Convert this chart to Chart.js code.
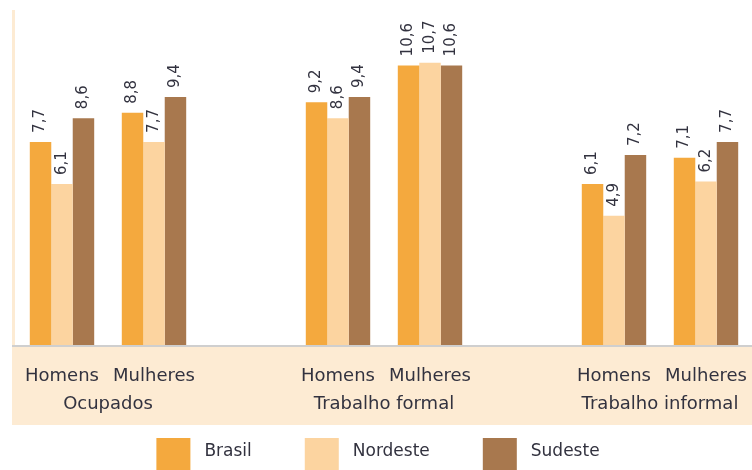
<!DOCTYPE html>
<html>
<head>
<meta charset="utf-8">
<script src="https://cdn.jsdelivr.net/npm/chart.js@4"></script>
<style>
  html, body { margin: 0; padding: 0; background: #fff; }
  #wrap { width: 752px; height: 470px; }
</style>
</head>
<body>
<div id="wrap"><canvas id="chart"></canvas></div>
<script>
'use strict';

// subgroup slots, empty slots make the gap between groups
const categories = ['Homens', 'Mulheres', '', 'Homens', 'Mulheres', '', 'Homens', 'Mulheres'];
const groups = ['Ocupados', 'Trabalho formal', 'Trabalho informal'];
const brasil = [7.7, 8.8, null, 9.2, 10.6, null, 6.1, 7.1];
const nordeste = [6.1, 7.7, null, 8.6, 10.7, null, 4.9, 6.2];
const sudeste = [8.6, 9.4, null, 9.4, 10.6, null, 7.2, 7.7];

const textColor = '#32323f';
const fontFamily = '"DejaVu Sans", sans-serif';

const decorPlugin = {
  id: 'decor',
  beforeDraw(chart) {
    const ctx = chart.ctx;
    const area = chart.chartArea;
    ctx.save();
    // peach band under the axis
    ctx.fillStyle = '#fdebd3';
    ctx.fillRect(12, area.bottom + 2, chart.width - 12, 78);
    // left line
    ctx.strokeStyle = '#fdebd3';
    ctx.lineWidth = 3;
    ctx.beginPath();
    ctx.moveTo(13.5, area.top);
    ctx.lineTo(13.5, area.bottom);
    ctx.stroke();
    // baseline
    ctx.strokeStyle = '#cfcfcf';
    ctx.lineWidth = 2;
    ctx.beginPath();
    ctx.moveTo(12, area.bottom + 1);
    ctx.lineTo(chart.width, area.bottom + 1);
    ctx.stroke();
    ctx.restore();
  },
  afterDatasetsDraw(chart) {
    const ctx = chart.ctx;
    ctx.save();
    ctx.fillStyle = textColor;
    ctx.font = '15px ' + fontFamily;
    ctx.textAlign = 'left';
    ctx.textBaseline = 'middle';
    chart.data.datasets.forEach((ds, i) => {
      const meta = chart.getDatasetMeta(i);
      meta.data.forEach((bar, j) => {
        const v = ds.data[j];
        if (v === null) return;
        ctx.save();
        ctx.translate(bar.x, bar.y - 9);
        ctx.rotate(-Math.PI / 2);
        ctx.fillText(v.toFixed(1).replace('.', ','), 0, 0);
        ctx.restore();
      });
    });
    // group labels
    const x = chart.scales.x;
    ctx.font = '18px ' + fontFamily;
    ctx.textAlign = 'center';
    for (let g = 0; g < groups.length; g++) {
      const cx = (x.getPixelForValue(g * 3) + x.getPixelForValue(g * 3 + 1)) / 2;
      ctx.fillText(groups[g], cx, chart.chartArea.bottom + 59);
    }

    // legend
    ctx.font = '17px ' + fontFamily;
    ctx.textAlign = 'left';
    const boxW = 34, gap = 14, spacing = 53;
    const items = chart.data.datasets.map(ds => ({
      label: ds.label, color: ds.backgroundColor, w: ctx.measureText(ds.label).width
    }));
    let total = 0;
    items.forEach((it, i) => { total += boxW + gap + it.w + (i ? spacing : 0); });
    let lx = (chart.width - total) / 2 + 2;
    const ly = chart.height - 32;
    items.forEach(it => {
      ctx.fillStyle = it.color;
      ctx.fillRect(lx, ly, boxW, 34);
      ctx.fillStyle = textColor;
      ctx.fillText(it.label, lx + boxW + gap, ly + 14);
      lx += boxW + gap + it.w + spacing;
    });
    ctx.restore();
  }
};

new Chart(document.getElementById('chart'), {
  type: 'bar',
  data: {
    labels: categories,
    datasets: [
      { label: 'Brasil', data: brasil, backgroundColor: '#f4a93e' },
      { label: 'Nordeste', data: nordeste, backgroundColor: '#fcd4a0' },
      { label: 'Sudeste', data: sudeste, backgroundColor: '#a8784e' }
    ]
  },
  options: {
    responsive: true,
    maintainAspectRatio: false,
    animation: false,
    layout: { padding: { left: 16, top: 10, right: 0, bottom: 45 } },
    datasets: { bar: { barPercentage: 1, categoryPercentage: 0.7 } },
    scales: {
      x: {
        grid: { display: false },
        border: { display: false },
        ticks: { color: textColor, font: { size: 18, family: fontFamily }, padding: 13, maxRotation: 0, autoSkip: false },
        afterFit(scale) {
          scale.height = 80;
          scale.paddingLeft = 0;
          scale.paddingRight = 0;
        }
      },
      y: { display: false, min: 0, max: 12.7 }
    },
    plugins: {
      tooltip: { enabled: false },
      legend: { display: false }
    }
  },
  plugins: [decorPlugin]
});
</script>
</body>
</html>
